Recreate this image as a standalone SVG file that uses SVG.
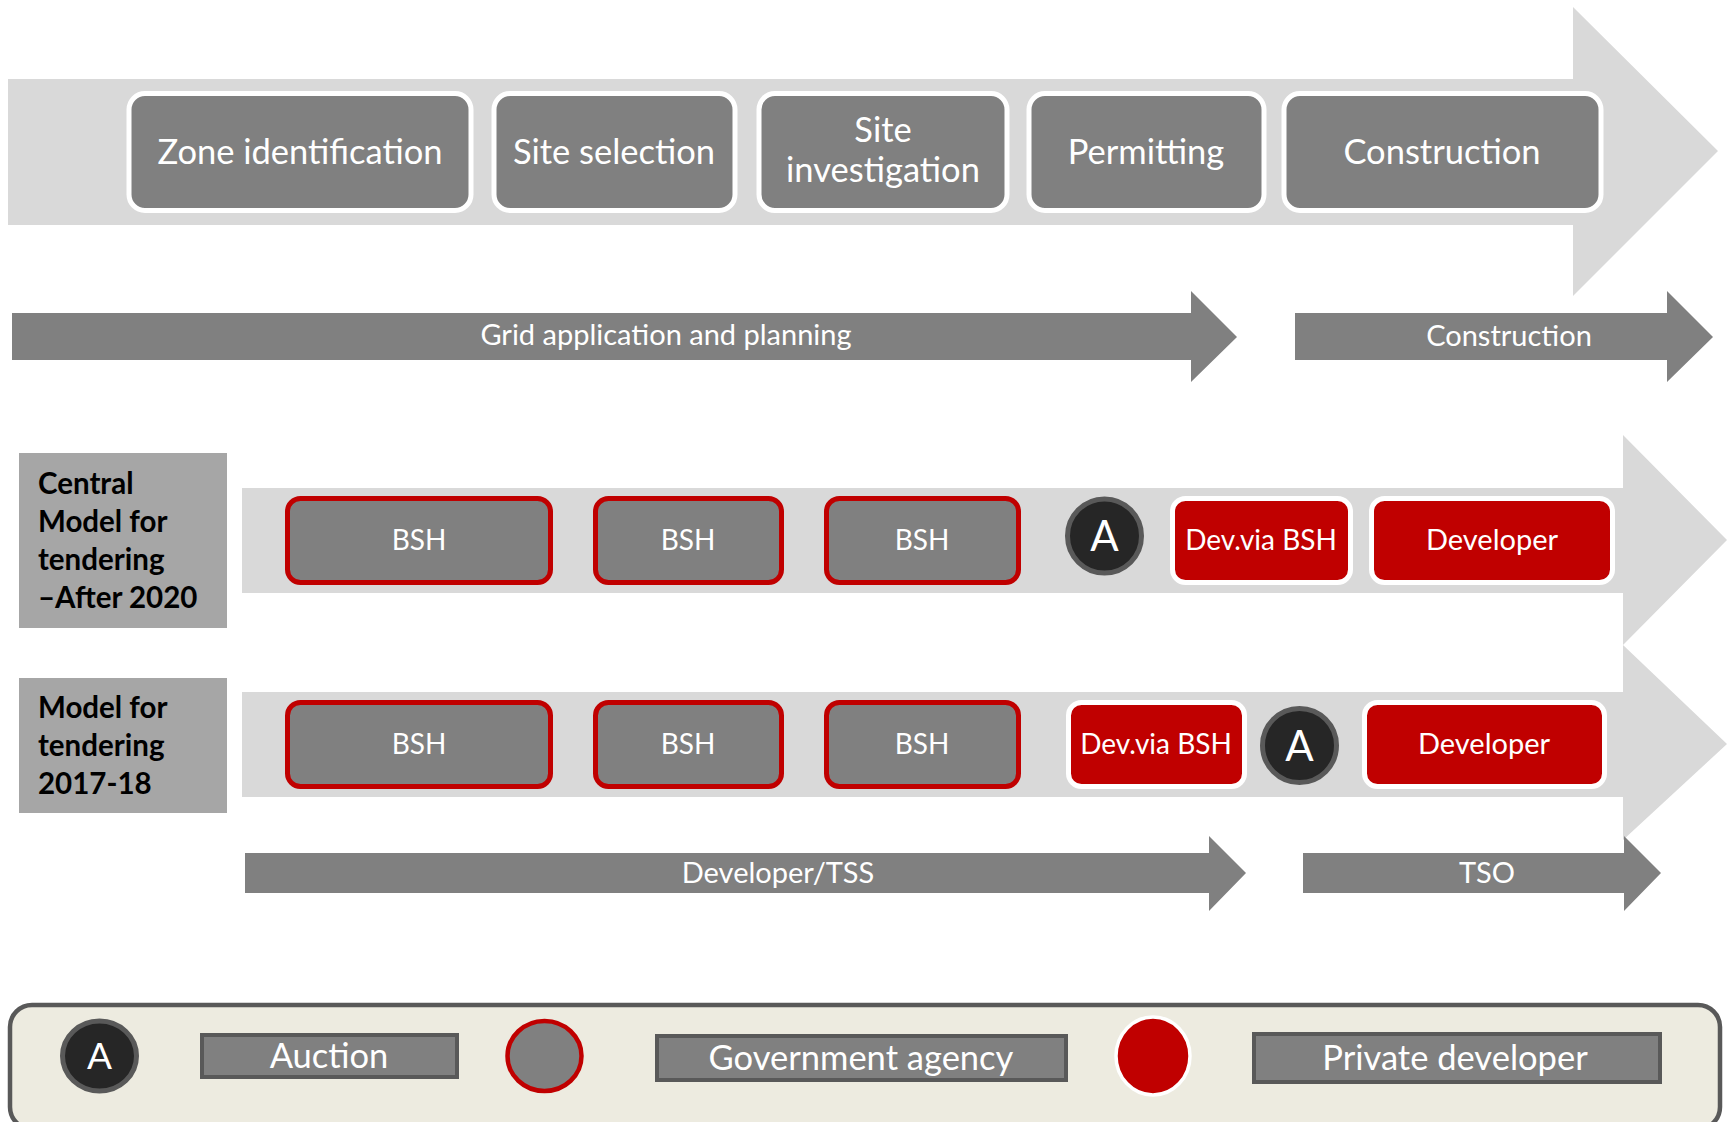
<svg xmlns="http://www.w3.org/2000/svg" width="1729" height="1122" viewBox="0 0 1729 1122">
  <style>
    text { font-family: Lato, "Open Sans", "Liberation Sans", sans-serif; fill: #ffffff; text-anchor: middle; }
    .band { fill: #d9d9d9; }
    .bar { fill: #808080; }
    .phase { fill: #808080; stroke: #ffffff; stroke-width: 5; }
    .phase-t { font-size: 34.5px; }
    .bar-t { font-size: 29px; }
    .gov { fill: #808080; stroke: #c00000; stroke-width: 5; }
    .dev { fill: #c00000; stroke: #ffffff; stroke-width: 5; }
    .box-t { font-size: 28px; }
    .auction { fill: #262626; stroke: #595959; stroke-width: 5; }
    .auction-t { font-size: 42px; }
    .label { fill: #a6a6a6; }
    .label-t { font-size: 29.5px; font-weight: bold; fill: #000000; text-anchor: start; }
    .key { fill: #808080; stroke: #595959; stroke-width: 4; }
    .key-t { font-size: 34.5px; }
  </style>

  <!-- Process arrows and row bands -->
  <g id="connectors">
    <polygon id="phase-arrow" class="band" points="8,79 1573,79 1573,7 1718,151 1573,296 1573,225 8,225"/>
    <polygon id="grid-arrow" class="bar" points="12,313 1191,313 1191,291 1237,337 1191,382 1191,360 12,360"/>
    <polygon id="construction-arrow" class="bar" points="1295,313 1667,313 1667,291 1713,337 1667,382 1667,360 1295,360"/>
    <polygon id="row1-arrow" class="band" points="242,488 1623,488 1623,435 1727,540 1623,645 1623,593 242,593"/>
    <polygon id="row2-arrow" class="band" points="242,692 1623,692 1623,645 1727,744 1623,840 1623,797 242,797"/>
    <polygon id="tss-arrow" class="bar" points="245,853 1209,853 1209,836 1246,873 1209,911 1209,893 245,893"/>
    <polygon id="tso-arrow" class="bar" points="1303,853 1624,853 1624,836 1661,873 1624,911 1624,893 1303,893"/>
  </g>

  <g id="arrow-labels">
    <text class="bar-t" x="666" y="345">Grid application and planning</text>
    <text class="bar-t" x="1509" y="346">Construction</text>
    <text class="bar-t" x="778" y="883">Developer/TSS</text>
    <text class="bar-t" x="1487" y="883">TSO</text>
  </g>

  <!-- Phases -->
  <g id="phase-zone">
    <rect class="phase" x="129" y="93.5" width="342" height="117" rx="16"/>
    <text class="phase-t" x="300" y="164">Zone identification</text>
  </g>
  <g id="phase-site-selection">
    <rect class="phase" x="494" y="93.5" width="241" height="117" rx="16"/>
    <text class="phase-t" x="614" y="164">Site selection</text>
  </g>
  <g id="phase-site-investigation">
    <rect class="phase" x="759" y="93.5" width="248" height="117" rx="16"/>
    <text class="phase-t" x="883" y="142">Site</text>
    <text class="phase-t" x="883" y="182">investigation</text>
  </g>
  <g id="phase-permitting">
    <rect class="phase" x="1029" y="93.5" width="235" height="117" rx="16"/>
    <text class="phase-t" x="1146" y="164">Permitting</text>
  </g>
  <g id="phase-construction">
    <rect class="phase" x="1284" y="93.5" width="317" height="117" rx="16"/>
    <text class="phase-t" x="1442" y="164">Construction</text>
  </g>

  <!-- Row labels -->
  <g id="label-central">
    <rect class="label" x="19" y="453" width="208" height="175"/>
    <text class="label-t" x="38" y="494">Central</text>
    <text class="label-t" x="38" y="532">Model for</text>
    <text class="label-t" x="38" y="570">tendering</text>
    <text class="label-t" x="38" y="608">–After 2020</text>
  </g>
  <g id="label-2017">
    <rect class="label" x="19" y="678" width="208" height="135"/>
    <text class="label-t" x="38" y="718">Model for</text>
    <text class="label-t" x="38" y="756">tendering</text>
    <text class="label-t" x="38" y="794">2017-18</text>
  </g>

  <!-- Row 1: central model -->
  <g id="r1-bsh1">
    <rect class="gov" x="287.5" y="498.5" width="263" height="84" rx="13"/>
    <text class="box-t" x="419" y="550">BSH</text>
  </g>
  <g id="r1-bsh2">
    <rect class="gov" x="595.5" y="498.5" width="186" height="84" rx="13"/>
    <text class="box-t" x="688" y="550">BSH</text>
  </g>
  <g id="r1-bsh3">
    <rect class="gov" x="826.5" y="498.5" width="192" height="84" rx="13"/>
    <text class="box-t" x="922" y="550">BSH</text>
  </g>
  <g id="r1-auction">
    <circle class="auction" cx="1104.5" cy="536" r="37"/>
    <text class="auction-t" x="1104.5" y="551">A</text>
  </g>
  <g id="r1-dev-via-bsh">
    <rect class="dev" x="1172.5" y="498.5" width="178" height="84" rx="13"/>
    <text class="box-t" x="1261" y="550">Dev.via BSH</text>
  </g>
  <g id="r1-developer">
    <rect class="dev" x="1371.5" y="498.5" width="241" height="84" rx="13"/>
    <text class="box-t" x="1492" y="550" style="font-size:29px">Developer</text>
  </g>

  <!-- Row 2: 2017-18 model -->
  <g id="r2-bsh1">
    <rect class="gov" x="287.5" y="702.5" width="263" height="84" rx="13"/>
    <text class="box-t" x="419" y="754">BSH</text>
  </g>
  <g id="r2-bsh2">
    <rect class="gov" x="595.5" y="702.5" width="186" height="84" rx="13"/>
    <text class="box-t" x="688" y="754">BSH</text>
  </g>
  <g id="r2-bsh3">
    <rect class="gov" x="826.5" y="702.5" width="192" height="84" rx="13"/>
    <text class="box-t" x="922" y="754">BSH</text>
  </g>
  <g id="r2-dev-via-bsh">
    <rect class="dev" x="1068.5" y="702.5" width="176" height="84" rx="13"/>
    <text class="box-t" x="1156" y="754">Dev.via BSH</text>
  </g>
  <g id="r2-auction">
    <circle class="auction" cx="1299.5" cy="745.5" r="37"/>
    <text class="auction-t" x="1299.5" y="761">A</text>
  </g>
  <g id="r2-developer">
    <rect class="dev" x="1364.5" y="702.5" width="240" height="84" rx="13"/>
    <text class="box-t" x="1484" y="754" style="font-size:29px">Developer</text>
  </g>

  <!-- Key -->
  <g id="legend">
    <rect x="10" y="1005" width="1710" height="124" rx="22" fill="#edebe0" stroke="#595959" stroke-width="4.5"/>
    <ellipse class="auction" cx="99.5" cy="1056" rx="37" ry="35"/>
    <text x="99.5" y="1069" style="font-size:37px">A</text>
    <rect class="key" x="202" y="1035" width="255" height="42"/>
    <text class="key-t" x="329" y="1068">Auction</text>
    <ellipse class="gov" cx="544.5" cy="1056" rx="37" ry="35" style="stroke-width:4.5"/>
    <rect class="key" x="657" y="1036" width="409" height="44"/>
    <text class="key-t" x="861" y="1070">Government agency</text>
    <ellipse cx="1153" cy="1056" rx="37" ry="39" fill="#c00000" stroke="#ffffff" stroke-width="3.5"/>
    <rect class="key" x="1254" y="1034" width="406" height="48"/>
    <text class="key-t" x="1455" y="1070">Private developer</text>
  </g>
</svg>
